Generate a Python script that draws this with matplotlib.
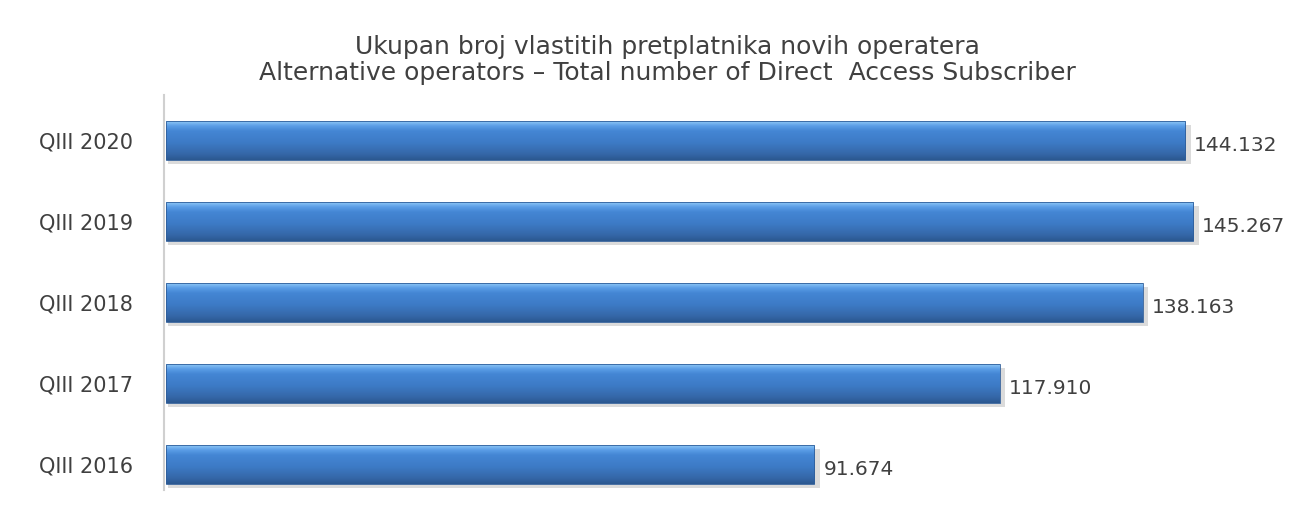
import numpy as np
import matplotlib.pyplot as plt
from matplotlib.colors import LinearSegmentedColormap
from matplotlib.patches import Rectangle

categories = ['QIII 2016', 'QIII 2017', 'QIII 2018', 'QIII 2019', 'QIII 2020']
values = [91674, 117910, 138163, 145267, 144132]
labels = ['91.674', '117.910', '138.163', '145.267', '144.132']

title = ('Ukupan broj vlastitih pretplatnika novih operatera\n'
         'Alternative operators \u2013 Total number of Direct  Access Subscriber')

plt.rcParams['font.family'] = ['DejaVu Sans']

fig = plt.figure(figsize=(13.16, 5.07), dpi=100)
ax = fig.add_axes([166 / 1316, 17 / 507, 1150 / 1316, 395 / 507])

# bottom -> top of each bar
cmap = LinearSegmentedColormap.from_list(
    'bev', [(0, '#2b5890'), (0.15, '#3567a8'), (0.45, '#3d7bc6'),
            (0.75, '#4486d4'), (0.88, '#5a9de6'), (1, '#8cc6f6')])
grad = np.linspace(0, 1, 64).reshape(-1, 1)

h = 0.48
y = np.arange(len(categories))
for yi, v, lab in zip(y, values, labels):
    # shadow
    ax.add_patch(Rectangle((300, yi - h / 2 - 0.05), v + 500, h, color='#c4c4c4',
                           alpha=0.6, lw=0, zorder=1))
    ax.imshow(grad, cmap=cmap, aspect='auto', interpolation='bicubic',
              origin='lower', extent=(0, v, yi - h / 2, yi + h / 2), zorder=2)
    ax.add_patch(Rectangle((0, yi - h / 2), v, h, fill=False,
                           ec='#2f5e9a', lw=0.6, zorder=3))
    ax.text(v + 1300, yi - 0.06, lab, va='center', ha='left',
            fontsize=14.5, color='#404040')

ax.set_xlim(0, 1150 / 0.00707)
ax.set_ylim(-0.31, 4.56)
ax.set_yticks(y)
ax.set_yticklabels(categories)
ax.tick_params(axis='y', length=0, pad=22, labelsize=15, labelcolor='#404040')
ax.set_xticks([])
for s in ['top', 'right', 'bottom']:
    ax.spines[s].set_visible(False)
ax.spines['left'].set_color('#d0d0d0')
ax.spines['left'].set_linewidth(1.5)
ax.spines['left'].set_position(('data', -300))

fig.text(0.507, 1 - 60 / 507, title, ha='center', va='center', fontsize=18,
         color='#404040', linespacing=1.1)

fig.savefig('out.png', dpi=100)
